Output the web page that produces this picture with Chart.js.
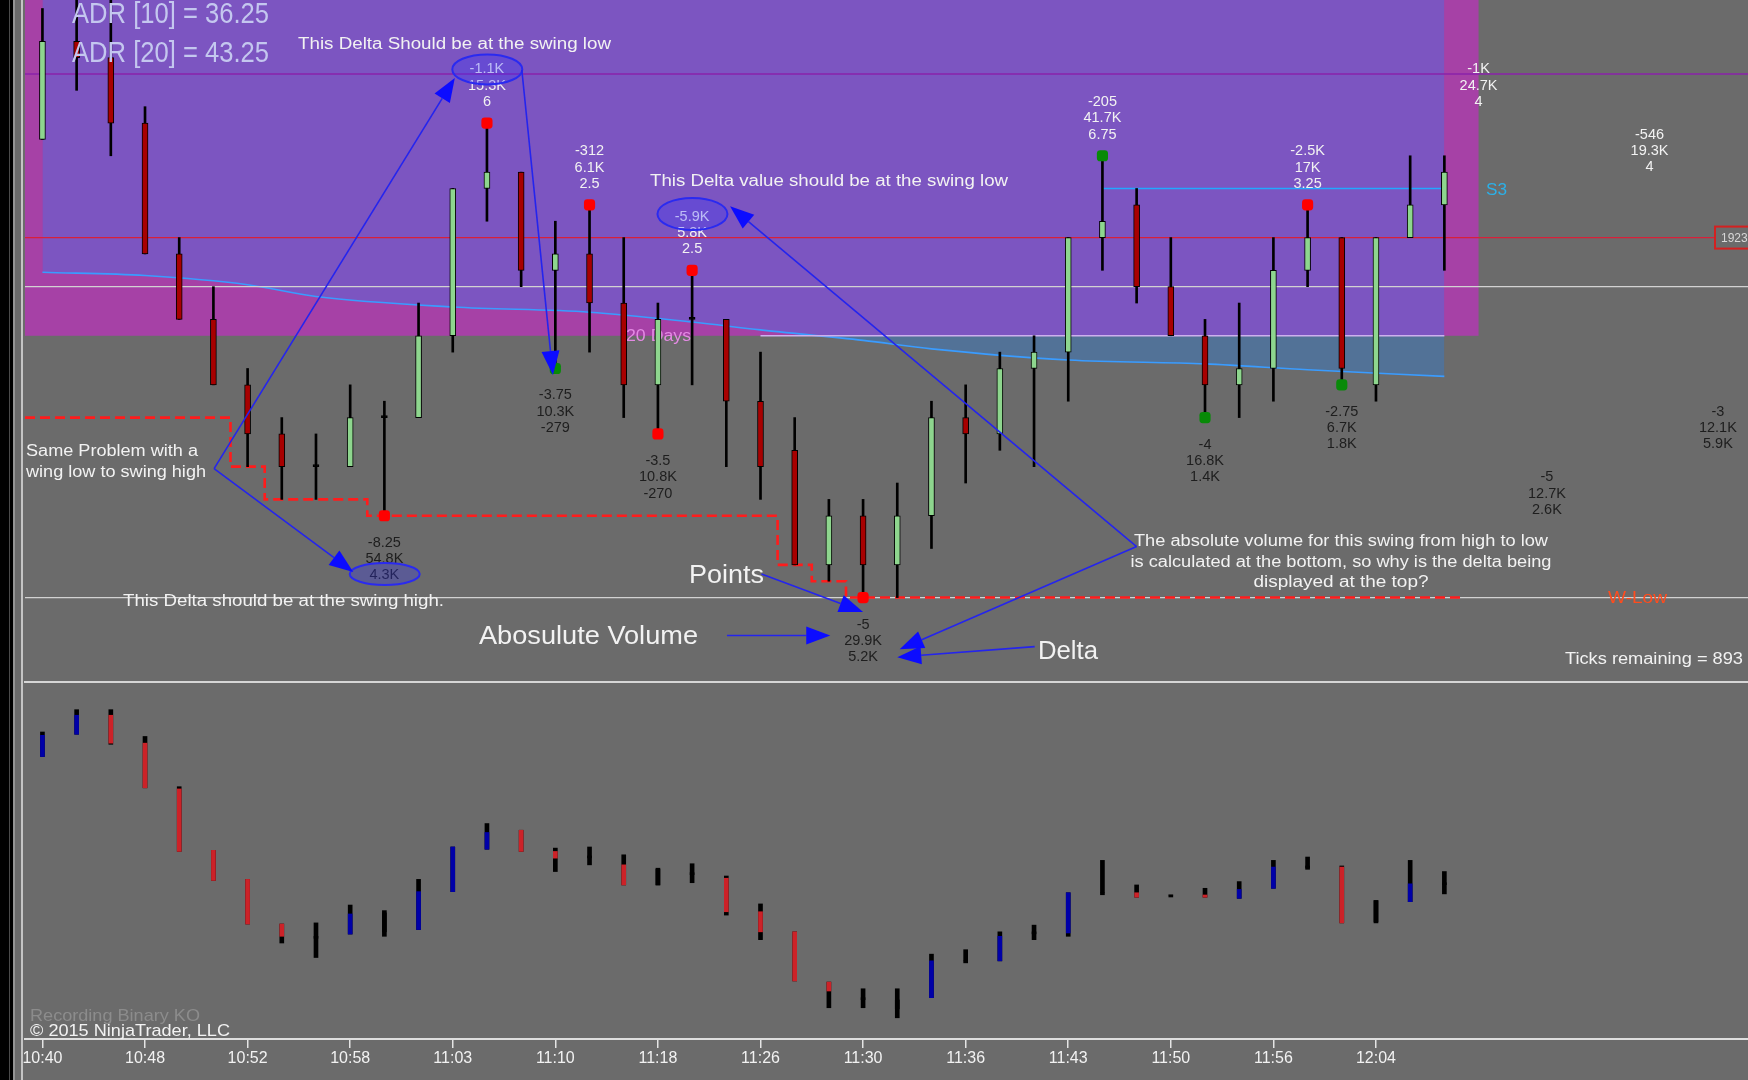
<!DOCTYPE html>
<html><head><meta charset="utf-8">
<script src="https://cdn.jsdelivr.net/npm/chart.js@4.4.1/dist/chart.umd.min.js"></script>
<style>
html,body{margin:0;padding:0;background:#6b6b6b;}
#wrap{position:relative;width:1748px;height:1080px;background:#6b6b6b;overflow:hidden;}
#top{position:absolute;left:0;top:0;width:1748px;height:682px;}
#bot{position:absolute;left:0;top:684px;width:1748px;height:396px;}
.v{position:absolute;top:0;height:1080px;}
</style></head><body>
<div id="wrap">
<canvas id="top" width="1748" height="682"></canvas>
<div style="position:absolute;left:24px;top:681px;width:1724px;height:2px;background:#d6d6d6"></div>
<canvas id="bot" width="1748" height="396"></canvas>
<div class="v" style="left:0;width:13px;background:#000"></div>
<div class="v" style="left:9px;width:1px;background:#4a4a4a"></div>
<div class="v" style="left:13px;width:2px;background:#959595"></div>
<div class="v" style="left:21px;width:2px;background:#c4c4c4"></div>
</div>
<script>
// ---------------- DATA ----------------
const timeLabels = ['10:40','10:48','10:52','10:58','11:03','11:10','11:18','11:26','11:30','11:36','11:43','11:50','11:56','12:04'];
const tickIdx = [0,3,6,9,12,15,18,21,24,27,30,33,36,39];

// price candles (index 0..41)
const open  = [1924.5,1926,1925.75,1924.75,1922.75,1921.75,1920.75,1920,1919.5,1919.5,1920.25,1920.25,1921.5,1923.75,1924,1922.5,1922.75,1922,1920.75,1921.75,1921.75,1920.5,1919.75,1918,1918.75,1918,1918.75,1920.25,1920,1921,1921.25,1923,1923.5,1922.25,1921.5,1920.75,1921,1922.5,1923,1920.75,1923,1923.5];
const high  = [1926.5,1927,1926.75,1925,1923,1922.25,1921,1920.25,1920,1920.75,1920.5,1922,1923.75,1924.75,1924,1923.25,1923.5,1923,1922,1922.5,1921.75,1921.25,1920.25,1919,1919,1919.25,1920.5,1920.75,1921.25,1921.5,1923,1924.25,1923.75,1923,1921.75,1922,1923,1923.5,1923,1923,1924.25,1924.25];
const low   = [1924.5,1925.25,1924.25,1922.75,1921.75,1920.75,1919.5,1919,1919,1919.5,1918.75,1920.25,1921.25,1923.25,1922.25,1921,1921.25,1920.25,1920,1920.75,1919.5,1919,1918,1917.75,1917.5,1917.5,1918.25,1919.25,1919.75,1919.5,1920.5,1922.5,1922,1921.5,1920.25,1920.25,1920.5,1922.25,1920.75,1920.5,1923,1922.5];
const close = [1926,1925.75,1924.75,1922.75,1921.75,1920.75,1920,1919.5,1919.5,1920.25,1920.25,1921.5,1923.75,1924,1922.5,1922.75,1922,1920.75,1921.75,1921.75,1920.5,1919.5,1918,1918.75,1918,1918.75,1920.25,1920,1921,1921.25,1923,1923.25,1922.25,1921.5,1920.75,1921,1922.5,1923,1921,1923,1923.5,1924];

// trailing swing line level per bar
const stepLevel = [1920.25,1920.25,1920.25,1920.25,1920.25,1920.25,1919.5,1919,1919,1919,
  1918.75,1918.75,1918.75,1918.75,1918.75,1918.75,1918.75,1918.75,1918.75,1918.75,1918.75,1918.75,
  1918,1917.75,1917.5,1917.5,1917.5,1917.5,1917.5,1917.5,1917.5,1917.5,1917.5,1917.5,1917.5,1917.5,1917.5,1917.5,1917.5,1917.5,1917.5,1917.5];

// 20-day moving line (sampled where read)
const smaIdx = [0,3,6,8,12,16,19,21,24,26,30,34,37,41];
const smaVal = [1922.47,1922.42,1922.28,1922.10,1921.94,1921.86,1921.71,1921.59,1921.43,1921.30,1921.13,1921.07,1920.98,1920.88];

// swing markers
const swingIdx   = [10,13,15,16,18,19,24,31,34,37,38];
const swingPrice = [1918.75,1924.75,1921,1923.5,1920,1922.5,1917.5,1924.25,1920.25,1923.5,1920.75];
const swingKind  = ['r','r','g','r','r','r','r','g','g','r','g'];

// swing labels
const labelIdx   = [10,13,15,16,18,19,24,31,34,37,38,42,44,47,49];
const labelPrice = [1918.75,1924.75,1921,1923.5,1920,1922.5,1917.5,1924.25,1920.25,1923.5,1920.75,1924.75,1919.75,1923.75,1920.75];
const labelSide  = ['low','high','low','high','low','high','low','high','low','high','low','high','low','high','low'];
const labelText  = [['-8.25','54.8K','4.3K'],['-1.1K','15.3K','6'],['-3.75','10.3K','-279'],['-312','6.1K','2.5'],
  ['-3.5','10.8K','-270'],['-5.9K','5.8K','2.5'],['-5','29.9K','5.2K'],['-205','41.7K','6.75'],['-4','16.8K','1.4K'],
  ['-2.5K','17K','3.25'],['-2.75','6.7K','1.8K'],['-1K','24.7K','4'],['-5','12.7K','2.6K'],['-546','19.3K','4'],['-3','12.1K','5.9K']];

// horizontal levels
const levelPurple = 1925.5, levelRed = 1923, levelGrey = 1922.25, levelWLow = 1917.5;
const levelS3 = 1923.75, s3From = 31, s3To = 41;
const level20d = 1921.5, d20From = 21, d20To = 41;
const zoneLow = 1921.5, zoneEnd = 42;

// lower panel (cumulative delta, K)
const dHigh  = [24.3,26.3,26.3,23.9,19.4,13.7,11.1,7.1,7.2,8.8,8.3,11.1,14.0,16.1,15.5,13.9,14.0,13.3,12.1,12.5,11.4,8.9,6.4,1.9,1.3,1.3,4.4,4.8,6.4,7.0,9.9,12.8,10.6,9.7,10.3,10.9,12.8,13.1,12.3,9.2,12.8,11.8];
const dOpen  = [22.1,24.1,25.8,23.3,19.2,13.7,11.1,7.1,6.0,6.2,8.1,6.6,10.0,13.8,15.5,13.6,13.2,12.4,12.0,11.7,11.2,8.2,6.4,1.9,0.5,0.3,0.5,3.8,3.8,6.4,6.3,9.9,9.9,9.7,9.7,9.4,10.3,12.3,12.2,7.3,9.1,10.8];
const dClose = [24.0,25.8,23.3,19.3,13.6,11.0,7.1,6.0,6.0,8.0,6.4,10.0,14.0,15.3,13.6,13.0,13.2,10.6,10.6,11.7,8.2,6.4,2.0,1.1,0.5,-0.5,3.8,3.8,6.0,6.4,9.9,9.9,9.5,9.7,9.5,10.2,12.2,12.3,7.2,9.2,10.7,10.8];
const dLow   = [22.1,24.1,23.2,19.3,13.6,11.0,7.1,5.4,4.1,6.2,6.0,6.6,10.0,13.8,13.6,11.8,12.4,10.6,10.6,10.8,7.9,5.7,2.0,-0.4,-0.4,-1.3,0.5,3.8,3.8,5.7,6.0,9.9,9.5,9.7,9.5,9.4,10.3,12.0,7.2,7.2,9.1,9.8];
const dKind  = ['u','u','d','d','d','d','d','d','n','u','n','u','u','u','d','d','n','d','n','n','d','d','d','d','n','n','u','n','u','n','u','n','d','n','d','u','u','n','d','n','u','n'];

// ---------------- SETUP ----------------
const X_MIN = -0.51, X_MAX = 49.88;
const Y_MIN = 1916.21, Y_MAX = 1926.63;
const D_MIN = -3.2, D_MAX = 28.6;
const FONT = '"Liberation Sans", Arial, sans-serif';
Chart.defaults.font.family = FONT;
const idx = open.map((_, i) => i);

function fitText(ctx, txt, x, y, size, color, align, width, weight) {
  ctx.save();
  ctx.font = (weight || 'normal') + ' ' + size + 'px ' + FONT;
  const w = ctx.measureText(txt).width;
  const sx = width ? width / w : 1;
  ctx.translate(x, y);
  ctx.scale(sx, 1);
  ctx.textAlign = align || 'left';
  ctx.textBaseline = 'middle';
  ctx.fillStyle = color;
  ctx.fillText(txt, 0, 0);
  ctx.restore();
}
function arrow(ctx, x1, y1, x2, y2) {
  const dx = x2 - x1, dy = y2 - y1, len = Math.hypot(dx, dy);
  const ux = dx / len, uy = dy / len, L = 24, W = 9;
  const bx = x2 - ux * L, by = y2 - uy * L;
  ctx.save();
  ctx.strokeStyle = '#2424ee'; ctx.lineWidth = 1.6;
  ctx.beginPath(); ctx.moveTo(x1, y1); ctx.lineTo(bx, by); ctx.stroke();
  ctx.fillStyle = '#0c0cff';
  ctx.beginPath(); ctx.moveTo(x2, y2);
  ctx.lineTo(bx - uy * W, by + ux * W); ctx.lineTo(bx + uy * W, by - ux * W);
  ctx.closePath(); ctx.fill();
  ctx.restore();
}

const hline = (v, from, to, color, width) => ({
  type: 'line', data: [{x: from, y: v}, {x: to, y: v}], borderColor: color, borderWidth: width,
  pointRadius: 0, order: 3, fill: false
});

const zonePlugin = {
  id: 'zone',
  beforeDatasetsDraw(chart) {
    const {ctx, chartArea: a, scales: {x, y}} = chart;
    const x0 = a.left, x1 = x.getPixelForValue(zoneEnd), y1 = y.getPixelForValue(zoneLow);
    ctx.save();
    ctx.fillStyle = '#a641a6';
    ctx.fillRect(x0, a.top, x1 - x0, y1 - a.top);
    ctx.restore();
    fitText(ctx, '20 Days', 626, 337, 16, '#e48ae4', 'left', 65);
  }
};

const arrowFrom = [[5.02,1919.47],[5.02,1919.47],[14.02,1925.56],[32.0,1918.28],[32.0,1918.28],[29.02,1916.75],[21.03,1917.86],[20.02,1916.92]];
const arrowTo   = [[12.06,1925.44],[9.09,1917.89],[14.93,1920.90],[20.11,1923.48],[25.07,1916.71],[25.0,1916.59],[24.0,1917.28],[23.04,1916.92]];
const ellipses  = [[13.01,1925.57,35,15],[19.01,1923.36,35,16],[10.01,1917.86,35,11]];

const notePlugin = {
  id: 'notes',
  afterDatasetsDraw(chart) {
    const {ctx, scales: {x, y}} = chart;
    // swing labels
    labelIdx.forEach((li, k) => {
      const px = x.getPixelForValue(li), py = y.getPixelForValue(labelPrice[k]);
      const hi = labelSide[k] === 'high';
      labelText[k].forEach((t, j) => {
        const ly = hi ? py - 21 - (2 - j) * 16.3 : py + 27 + j * 16.3;
        fitText(ctx, t, px, ly, 14.5, hi ? '#f2f2f2' : '#1e1e1e', 'center');
      });
    });
    // ellipses
    ellipses.forEach(e => {
      ctx.save();
      ctx.beginPath();
      ctx.ellipse(x.getPixelForValue(e[0]), y.getPixelForValue(e[1]), e[2], e[3], 0, 0, Math.PI * 2);
      ctx.fillStyle = 'rgba(50,50,255,0.28)'; ctx.fill();
      ctx.strokeStyle = '#2a2af0'; ctx.lineWidth = 2; ctx.stroke();
      ctx.restore();
    });
    // arrows
    arrowFrom.forEach((f, k) => {
      const t = arrowTo[k];
      arrow(ctx, x.getPixelForValue(f[0]), y.getPixelForValue(f[1]), x.getPixelForValue(t[0]), y.getPixelForValue(t[1]));
    });
    // free text
    const lav = '#c4c7ef', wh = '#f2f2f2';
    fitText(ctx, 'ADR [10] = 36.25', 72, 15, 29, lav, 'left', 197);
    fitText(ctx, 'ADR [20] = 43.25', 72, 54, 29, lav, 'left', 197);
    fitText(ctx, 'This Delta Should be at the swing low', 298, 45, 16, wh, 'left', 313);
    fitText(ctx, 'This Delta value should be at the swing low', 650, 182, 16, wh, 'left', 358);
    fitText(ctx, 'Same Problem with a', 26, 452, 16, wh, 'left', 172);
    fitText(ctx, 'wing low to swing high', 26, 473, 16, wh, 'left', 180);
    fitText(ctx, 'This Delta should be at the swing high.', 123, 602, 16, wh, 'left', 321);
    fitText(ctx, 'Points', 689, 576, 25, wh, 'left', 75);
    fitText(ctx, 'Abosulute Volume', 479, 637, 25, wh, 'left', 219);
    fitText(ctx, 'Delta', 1038, 652, 25, wh, 'left', 60);
    fitText(ctx, 'The absolute volume for this swing from high to low', 1341, 542, 16, wh, 'center', 414);
    fitText(ctx, 'is calculated at the bottom, so why is the delta being', 1341, 563, 16, wh, 'center', 421);
    fitText(ctx, 'displayed at the top?', 1341, 583, 16, wh, 'center', 175);
    fitText(ctx, 'S3', 1486, 191, 16, '#2bb0e8', 'left', 21);
    fitText(ctx, 'W-Low', 1608, 598, 17, '#ff4c1e', 'left', 59);
    fitText(ctx, 'Ticks remaining = 893', 1743, 660, 16, wh, 'right', 178);
    // price marker box
    const pyr = y.getPixelForValue(levelRed);
    ctx.save();
    ctx.fillStyle = '#6b6b6b'; ctx.fillRect(1715, pyr - 11, 40, 22);
    ctx.strokeStyle = '#d42020'; ctx.lineWidth = 2; ctx.strokeRect(1715, pyr - 11, 40, 22);
    ctx.restore();
    fitText(ctx, '1923', 1721, pyr + 1, 12, '#d8d8d8', 'left');
  }
};

const GREEN = '#8ed68e', RED = '#a80000';
new Chart(document.getElementById('top'), {
  type: 'bar',
  data: { datasets: [
    { label: 'body', data: idx.map(i => ({x: i, y: [open[i], close[i]]})),
      backgroundColor: idx.map(i => close[i] > open[i] ? GREEN : (close[i] < open[i] ? RED : '#000')),
      borderColor: '#000', borderWidth: 1, borderSkipped: false, barThickness: 6, minBarLength: 2, grouped: false, order: 0 },
    { label: 'wick', data: idx.map(i => ({x: i, y: [low[i], high[i]]})),
      backgroundColor: '#000', barThickness: 2, grouped: false, order: 1 },
    { type: 'line', label: 'swings', data: swingIdx.map((s, k) => ({x: s, y: swingPrice[k]})), showLine: false,
      pointStyle: 'rectRounded', pointRadius: 6.5, pointBorderWidth: 0,
      pointBackgroundColor: swingKind.map(c => c === 'r' ? '#ff0000' : '#088a08'), order: -1 },
    { type: 'line', label: 'swingline',
      data: [{x: -0.51, y: stepLevel[0]}].concat(idx.map(i => ({x: i, y: stepLevel[i]})), [{x: 41.5, y: stepLevel[41]}]),
      stepped: 'middle', borderColor: '#ff1c1c', borderWidth: 2.6, borderDash: [10, 5], pointRadius: 0, fill: false, order: 2 },
    hline(levelPurple, X_MIN, X_MAX, '#8a22aa', 1.5),
    hline(levelRed, X_MIN, X_MAX, '#d8203a', 1.2),
    hline(levelGrey, X_MIN, X_MAX, '#d2d2d2', 1.2),
    hline(levelWLow, X_MIN, X_MAX, '#d2d2d2', 1.2),
    hline(levelS3, s3From, s3To, '#22a8ff', 1.5),
    hline(level20d, d20From, d20To, '#cdb0ee', 1.5),
    { type: 'line', label: 'sma', data: smaIdx.map((s, k) => ({x: s, y: smaVal[k]})),
      borderColor: '#3a9cff', borderWidth: 1.6, pointRadius: 0, cubicInterpolationMode: 'monotone',
      fill: 'end', backgroundColor: 'rgba(25,133,255,0.3)', order: 4 }
  ]},
  options: {
    responsive: false, animation: false, devicePixelRatio: 1,
    layout: { autoPadding: false, padding: { left: 25, right: 0, top: 0, bottom: 0 } },
    plugins: { legend: { display: false }, tooltip: { enabled: false } },
    scales: {
      x: { type: 'linear', display: false, min: X_MIN, max: X_MAX, offset: false, grid: { offset: false } },
      y: { type: 'linear', display: false, min: Y_MIN, max: Y_MAX, beginAtZero: false }
    }
  },
  plugins: [zonePlugin, notePlugin]
});

const botPlugin = {
  id: 'botText',
  afterDraw(chart) {
    const ctx = chart.ctx;
    fitText(ctx, 'Recording Binary KO', 30, 332, 17, '#8c8c8c', 'left', 170);
    fitText(ctx, '\u00A9 2015 NinjaTrader, LLC', 30, 347, 17, '#f2f2f2', 'left', 200);
  }
};
new Chart(document.getElementById('bot'), {
  type: 'bar',
  data: { datasets: [
    { label: 'dbody', data: idx.map(i => ({x: i, y: [dOpen[i], dClose[i]]})),
      backgroundColor: dKind.map(k => k === 'u' ? '#0000a8' : (k === 'd' ? '#cc2228' : '#000')),
      barThickness: 4, minBarLength: 2, grouped: false, order: 0 },
    { label: 'dwick', data: idx.map(i => ({x: i, y: [dLow[i], dHigh[i]]})),
      backgroundColor: '#000', barThickness: 4, grouped: false, order: 1 }
  ]},
  options: {
    responsive: false, animation: false, devicePixelRatio: 1,
    layout: { autoPadding: false, padding: { left: 25, right: 0, top: 0, bottom: 0 } },
    plugins: { legend: { display: false }, tooltip: { enabled: false } },
    scales: {
      x: { type: 'linear', min: X_MIN, max: X_MAX, offset: false, position: 'bottom',
        afterFit(s) { s.height = 41; },
        afterBuildTicks(s) { s.ticks = tickIdx.map(v => ({value: v})); },
        ticks: { autoSkip: false, maxRotation: 0, minRotation: 0, padding: 1, color: '#f2f2f2',
          font: { size: 16, family: FONT },
          callback: (v) => { const k = tickIdx.indexOf(v); return k >= 0 ? timeLabels[k] : ''; } },
        grid: { offset: false, drawOnChartArea: false, drawTicks: true, tickLength: 9, color: '#e4e4e4', lineWidth: 1.5 },
        border: { display: true, color: '#dedede', width: 2 } },
      y: { type: 'linear', display: false, min: D_MIN, max: D_MAX, beginAtZero: false }
    }
  },
  plugins: [botPlugin]
});
</script>
</body></html>
